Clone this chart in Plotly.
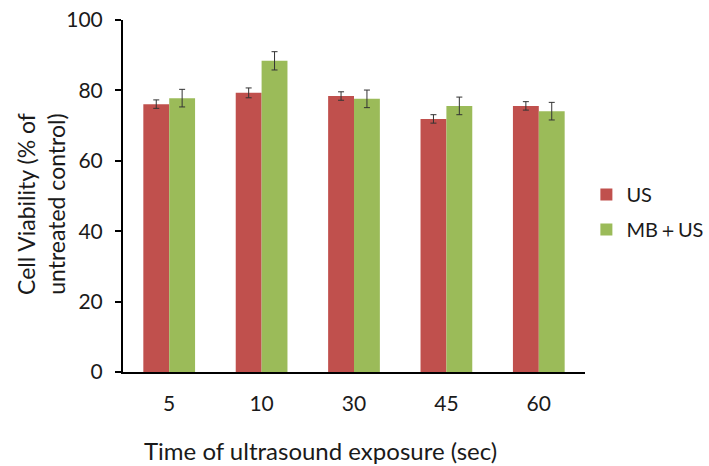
import plotly.graph_objects as go

categories = ["5", "10", "30", "45", "60"]
us_values = [76.1, 79.3, 78.4, 71.9, 75.6]
us_errors = [1.2, 1.4, 1.2, 1.2, 1.2]
mb_values = [77.8, 88.4, 77.6, 75.6, 74.1]
mb_errors = [2.5, 2.6, 2.5, 2.5, 2.5]
y_ticks = [0, 20, 40, 60, 80, 100]

font_family = "Lato, Open Sans, sans-serif"
text_color = "#1a1a1a"

fig = go.Figure()
fig.add_trace(go.Bar(
    name="US", x=categories, y=us_values, legendgroup="us",
    marker=dict(color="#C0504D", line=dict(width=0)),
    error_y=dict(type="data", array=us_errors, color="#333333", thickness=1, width=3),
))
fig.add_trace(go.Bar(
    name="MB\uff0bUS", x=categories, y=mb_values, legendgroup="mb",
    marker=dict(color="#9BBB59", line=dict(width=0)),
    error_y=dict(type="data", array=mb_errors, color="#333333", thickness=1, width=3),
))

fig.update_layout(
    width=709, height=466,
    margin=dict(l=123, r=124, t=20, b=94, autoexpand=False),
    paper_bgcolor="white", plot_bgcolor="white",
    barmode="group", bargap=0.44, bargroupgap=0,
    font=dict(family=font_family, size=21, color=text_color),
    showlegend=True,
    legend=dict(x=1.003, y=(372 - 212) / 352, xanchor="left", yanchor="middle",
                font=dict(size=20, color=text_color), itemwidth=30,
                traceorder="grouped", tracegroupgap=6, bgcolor="rgba(0,0,0,0)"),
    xaxis=dict(
        showline=True, linecolor="black", linewidth=2, automargin=False,
        ticks="", tickfont=dict(size=21), ticklabelstandoff=12,
        ticklabeloverflow="allow",
    ),
    yaxis=dict(
        range=[0, 100], tickvals=y_ticks, automargin=False,
        showline=True, linecolor="black", linewidth=2,
        ticks="outside", ticklen=6, tickwidth=2, tickcolor="black",
        showgrid=False, zeroline=False, tickfont=dict(size=21), ticklabelstandoff=8,
        ticklabeloverflow="allow",
    ),
    annotations=[
        dict(text="Time of ultrasound exposure (sec)", xref="paper", yref="paper",
             x=(320 - 123) / 462, y=-(450 - 372) / 352, xanchor="center", yanchor="middle",
             showarrow=False, font=dict(size=24, color=text_color)),
        dict(text="Cell Viability (% of<br>untreated control)", xref="paper", yref="paper",
             x=-(123 - 41) / 462, y=(372 - 204) / 352, xanchor="center", yanchor="middle",
             textangle=-90, showarrow=False, font=dict(size=23, color=text_color)),
    ],
)

fig.write_html("out.html", config={"displayModeBar": False},
               post_script="document.body.style.margin='0';")
